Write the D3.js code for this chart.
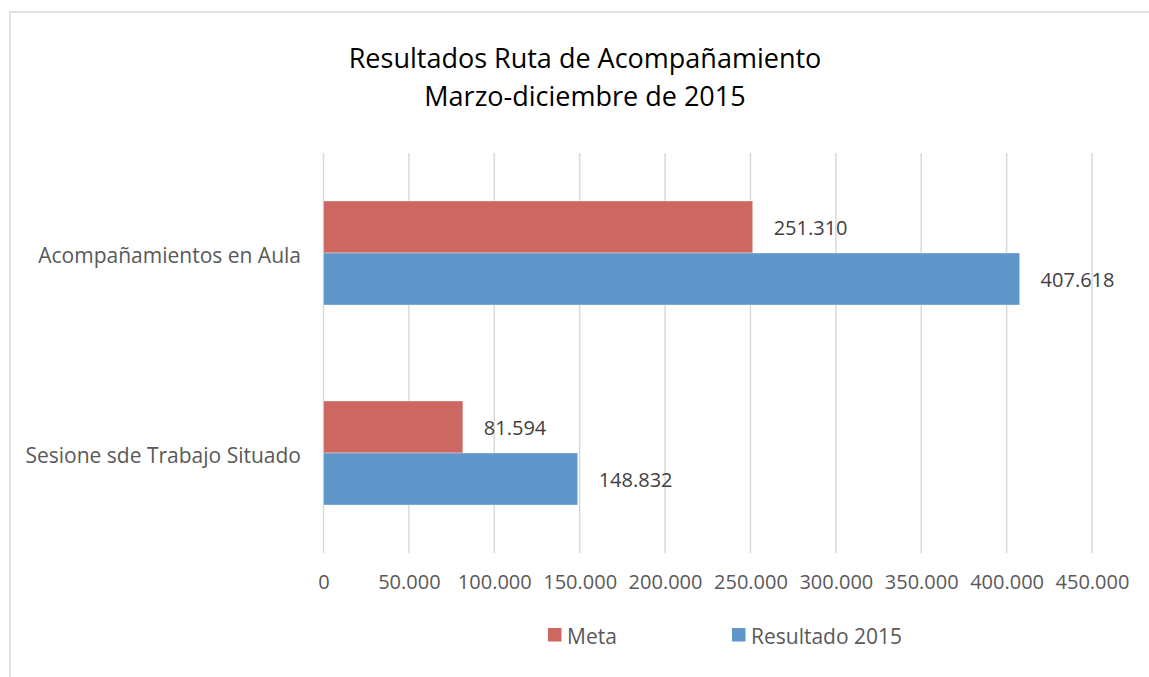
<!DOCTYPE html>
<html>
<head>
<meta charset="utf-8">
<script src="https://cdn.jsdelivr.net/npm/d3@7"></script>
<style>
  html, body { margin: 0; padding: 0; background: #fff; }
  svg { display: block; font-family: "Open Sans", sans-serif; }
</style>
</head>
<body>
<svg id="chart" width="1149" height="677"></svg>
<script>
const titleLines = ["Resultados Ruta de Acompañamiento", "Marzo-diciembre de 2015"];
const categories = ["Acompañamientos en Aula", "Sesione sde Trabajo Situado"];
const seriesNames = ["Meta", "Resultado 2015"];
const metaValues = [251310, 81594];
const resultadoValues = [407618, 148832];
const tickValues = [0, 50000, 100000, 150000, 200000, 250000, 300000, 350000, 400000, 450000];
const tickLabels = ["0", "50.000", "100.000", "150.000", "200.000", "250.000", "300.000", "350.000", "400.000", "450.000"];
const valueLabels = [["251.310", "81.594"], ["407.618", "148.832"]];
const colors = ["#CD6761", "#6096C9"];

const svg = d3.select("#chart");

// frame (only top & left edges visible)
svg.append("line").attr("x1", 9).attr("x2", 1149).attr("y1", 12).attr("y2", 12)
  .attr("stroke", "#d9d9d9").attr("stroke-width", 1.5);
svg.append("line").attr("x1", 10).attr("x2", 10).attr("y1", 11).attr("y2", 677)
  .attr("stroke", "#d9d9d9").attr("stroke-width", 1.5);

const x = d3.scaleLinear().domain([0, 450000]).range([323.5, 1092]);
const y = d3.scaleBand().domain(categories).range([153, 553]).paddingInner(0.48).paddingOuter(0.24);
const ys = d3.scaleBand().domain(seriesNames).range([0, y.bandwidth()]);

// gridlines
svg.append("g").selectAll("line").data(tickValues).join("line")
  .attr("x1", d => x(d)).attr("x2", d => x(d))
  .attr("y1", 153).attr("y2", 553)
  .attr("stroke", "#d9d9d9").attr("stroke-width", 1.5);

// x axis labels
const axis = d3.axisBottom(x).tickValues(tickValues).tickFormat((d, i) => tickLabels[i]).tickSize(0).tickPadding(0);
const axG = svg.append("g").attr("transform", "translate(0,553)").call(axis);
axG.select(".domain").remove();
axG.selectAll("text").attr("dy", null).attr("y", 36)
  .attr("font-family", "'Open Sans', sans-serif").attr("font-size", 20).attr("fill", "#595959");

// bars
const series = [metaValues, resultadoValues];
series.forEach((vals, si) => {
  svg.append("g").selectAll("rect").data(categories).join("rect")
    .attr("x", x(0))
    .attr("y", c => y(c) + ys(seriesNames[si]))
    .attr("width", (c, i) => x(vals[i]) - x(0))
    .attr("height", ys.bandwidth())
    .attr("fill", colors[si])
    .attr("stroke", "#ffffff").attr("stroke-opacity", 0.35).attr("stroke-width", 1);
  svg.append("g").selectAll("text").data(categories).join("text")
    .attr("x", (c, i) => x(vals[i]) + 21)
    .attr("y", c => y(c) + ys(seriesNames[si]) + ys.bandwidth() / 2 + 8)
    .attr("font-size", 20).attr("fill", "#404040")
    .text((c, i) => valueLabels[si][i]);
});

// category labels
svg.append("g").selectAll("text").data(categories).join("text")
  .attr("x", 301)
  .attr("y", c => y(c) + y.bandwidth() / 2 + 10)
  .attr("text-anchor", "end")
  .attr("font-size", 21).attr("fill", "#595959")
  .text(c => c);

// title
svg.append("g").selectAll("text").data(titleLines).join("text")
  .attr("x", 585).attr("y", (d, i) => 68 + i * 38)
  .attr("text-anchor", "middle")
  .attr("font-size", 27).attr("fill", "#000")
  .text(d => d);

// legend
const legendX = [548, 732];
seriesNames.forEach((s, i) => {
  svg.append("rect").attr("x", legendX[i]).attr("y", 628).attr("width", 13.5).attr("height", 13.5).attr("fill", colors[i]);
  svg.append("text").attr("x", legendX[i] + 19).attr("y", 644)
    .attr("font-size", 21).attr("fill", "#595959").text(s);
});
</script>
</body>
</html>
